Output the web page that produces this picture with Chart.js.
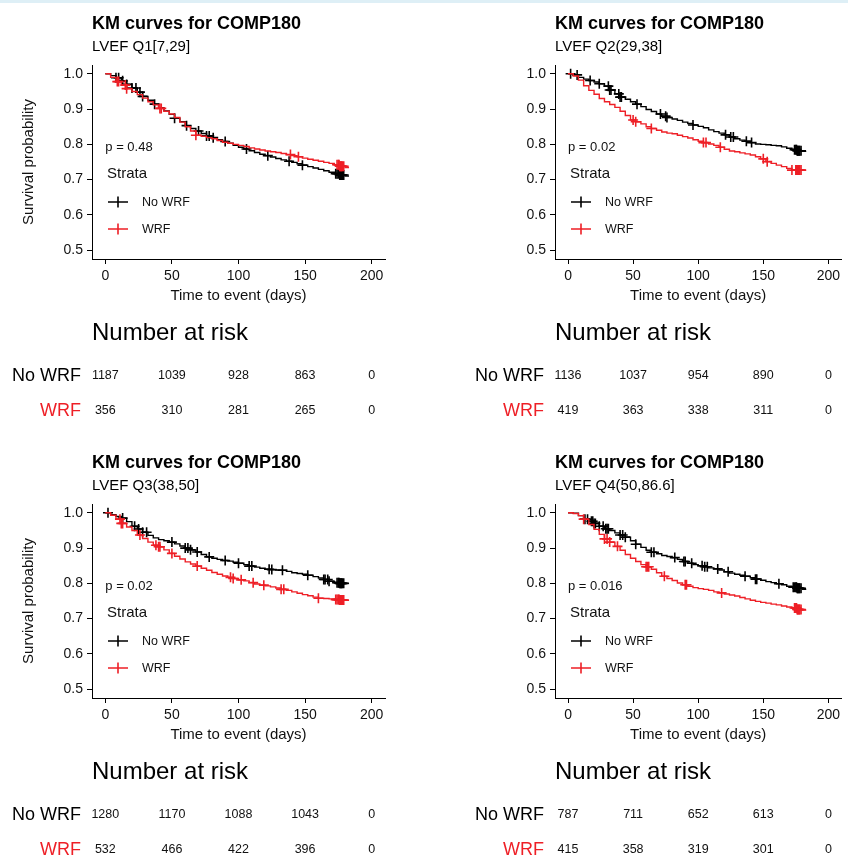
<!DOCTYPE html>
<html>
<head>
<meta charset="utf-8">
<script src="https://cdn.jsdelivr.net/npm/chart.js@4.4.1/dist/chart.umd.min.js"></script>
<style>
  body { margin: 0; background: #fff; width: 848px; height: 857px; position: relative; overflow: hidden; }
  #band { position: absolute; left: 0; top: 0; width: 848px; height: 3px; background: #deeff6; }
  .panel { position: absolute; }
  canvas { display: block; }
</style>
</head>
<body>
<div id="band"></div>
<div class="panel" style="left:0;top:0"><canvas id="q1" width="424" height="439"></canvas></div>
<div class="panel" style="left:463px;top:0"><canvas id="q2" width="385" height="439"></canvas></div>
<div class="panel" style="left:0;top:439px"><canvas id="q3" width="424" height="418"></canvas></div>
<div class="panel" style="left:463px;top:439px"><canvas id="q4" width="385" height="418"></canvas></div>
<script>
// days at which the KM estimates below were read off
var dayGrid = [0, 4, 8, 12, 16, 20, 24, 28, 32, 36, 40, 44, 48, 52, 56, 60, 64, 68, 72, 76, 80, 84, 88, 92,
    96, 100, 104, 108, 112, 116, 120, 124, 128, 132, 136, 140, 144, 148, 152, 156, 160, 164, 168, 172, 176, 180, 183]

var xTicks = [0, 50, 100, 150, 200]
var yTicks = [0.5, 0.6, 0.7, 0.8, 0.9, 1.0]
var strata = ['No WRF', 'WRF']
var subtitles = ['LVEF Q1[7,29]', 'LVEF Q2(29,38]', 'LVEF Q3(38,50]', 'LVEF Q4(50,86.6]']
var pValues = ['p = 0.48', 'p = 0.02', 'p = 0.02', 'p = 0.016']

// survival probability, Q1
var q1NoWrf = [1.000, 0.995, 0.989, 0.980, 0.970, 0.960, 0.948, 0.936, 0.925, 0.914, 0.904, 0.895, 0.885, 0.874, 0.864, 0.853,
    0.845, 0.838, 0.831, 0.824, 0.819, 0.813, 0.808, 0.803, 0.797, 0.792, 0.787, 0.782, 0.777, 0.772, 0.768, 0.764,
    0.760, 0.756, 0.752, 0.749, 0.745, 0.741, 0.737, 0.733, 0.729, 0.725, 0.721, 0.717, 0.713, 0.710, 0.710]
var q1Wrf = [1.000, 0.990, 0.978, 0.968, 0.958, 0.950, 0.941, 0.931, 0.921, 0.912, 0.902, 0.894, 0.886, 0.876, 0.863, 0.850,
    0.838, 0.826, 0.823, 0.819, 0.816, 0.811, 0.806, 0.803, 0.800, 0.797, 0.794, 0.790, 0.787, 0.784, 0.781, 0.779,
    0.777, 0.774, 0.771, 0.768, 0.765, 0.761, 0.758, 0.755, 0.752, 0.749, 0.746, 0.742, 0.738, 0.734, 0.734]
// Q2
var q2NoWrf = [1.000, 0.997, 0.990, 0.985, 0.981, 0.977, 0.972, 0.965, 0.954, 0.943, 0.934, 0.928, 0.921, 0.914, 0.907, 0.899,
    0.893, 0.886, 0.880, 0.876, 0.872, 0.868, 0.863, 0.859, 0.855, 0.851, 0.847, 0.841, 0.836, 0.832, 0.827, 0.821,
    0.816, 0.812, 0.809, 0.805, 0.801, 0.800, 0.799, 0.797, 0.796, 0.793, 0.789, 0.785, 0.782, 0.780, 0.780]
var q2Wrf = [1.000, 0.994, 0.982, 0.966, 0.953, 0.942, 0.930, 0.921, 0.913, 0.905, 0.894, 0.882, 0.869, 0.864, 0.858, 0.850,
    0.845, 0.840, 0.835, 0.832, 0.830, 0.826, 0.822, 0.818, 0.813, 0.809, 0.805, 0.801, 0.797, 0.792, 0.786, 0.781,
    0.779, 0.776, 0.773, 0.770, 0.765, 0.759, 0.751, 0.746, 0.741, 0.737, 0.732, 0.727, 0.727, 0.727, 0.727]
// Q3
var q3NoWrf = [1.000, 0.995, 0.990, 0.985, 0.975, 0.962, 0.954, 0.945, 0.936, 0.929, 0.924, 0.921, 0.917, 0.912, 0.906, 0.900,
    0.895, 0.889, 0.882, 0.875, 0.871, 0.868, 0.865, 0.863, 0.860, 0.857, 0.853, 0.849, 0.846, 0.843, 0.840, 0.839,
    0.838, 0.837, 0.834, 0.830, 0.828, 0.826, 0.823, 0.819, 0.815, 0.811, 0.806, 0.802, 0.800, 0.800, 0.800]
var q3Wrf = [1.000, 0.993, 0.982, 0.970, 0.960, 0.950, 0.937, 0.927, 0.917, 0.908, 0.904, 0.895, 0.885, 0.877, 0.869, 0.861,
    0.855, 0.849, 0.843, 0.837, 0.831, 0.826, 0.821, 0.817, 0.814, 0.810, 0.807, 0.802, 0.798, 0.795, 0.793, 0.790,
    0.787, 0.783, 0.780, 0.776, 0.772, 0.768, 0.765, 0.761, 0.758, 0.757, 0.756, 0.754, 0.753, 0.752, 0.752]
// Q4
var q4NoWrf = [1.000, 0.999, 0.992, 0.982, 0.976, 0.970, 0.962, 0.955, 0.950, 0.943, 0.937, 0.931, 0.921, 0.911, 0.902, 0.894,
    0.888, 0.884, 0.879, 0.876, 0.873, 0.868, 0.862, 0.857, 0.853, 0.850, 0.847, 0.844, 0.841, 0.838, 0.833, 0.829,
    0.826, 0.823, 0.820, 0.816, 0.812, 0.809, 0.805, 0.802, 0.799, 0.796, 0.792, 0.789, 0.786, 0.783, 0.783]
var q4Wrf = [1.000, 0.998, 0.992, 0.982, 0.967, 0.953, 0.939, 0.926, 0.917, 0.905, 0.894, 0.882, 0.871, 0.862, 0.853, 0.847,
    0.840, 0.830, 0.820, 0.814, 0.808, 0.801, 0.796, 0.792, 0.788, 0.785, 0.783, 0.780, 0.776, 0.773, 0.770, 0.767,
    0.764, 0.760, 0.756, 0.752, 0.749, 0.746, 0.744, 0.741, 0.739, 0.736, 0.733, 0.730, 0.726, 0.724, 0.724]

// censoring times (days)
var q1NoWrfCens = [8, 10, 13, 16, 20, 23, 26, 28, 37, 52, 61, 70, 76, 78, 81, 90, 106, 122, 138, 148, 173, 174, 175, 176, 176.5, 177, 177.5, 178, 179]
var q1WrfCens = [9, 10, 15, 16, 41, 42, 68, 139, 145, 174, 175, 175.5, 176, 176.5, 177, 177.5, 178, 179]
var q2NoWrfCens = [2, 7, 17, 24, 31, 32, 33, 39, 40, 41, 53, 71, 75, 76, 96, 121, 125, 127, 137, 141, 174, 175, 175.5, 176, 176.5, 177, 177.5, 178, 179]
var q2WrfCens = [50, 52, 64, 104, 106, 117, 150, 153, 172, 175, 175.5, 176, 176.5, 177, 177.5, 178, 179]
var q3NoWrfCens = [2, 13, 22, 25, 28, 31, 50, 60, 62, 64, 69, 78, 90, 100, 108, 110, 123, 125, 133, 152, 164, 165, 167, 168, 174, 175, 175.5, 176, 176.5, 177, 177.5, 178, 179]
var q3WrfCens = [11, 12, 13, 26, 38, 40, 41, 50, 69, 94, 96, 102, 111, 119, 132, 134, 160, 173, 174, 175, 175.5, 176, 176.5, 177, 177.5, 178, 179]
var q4NoWrfCens = [13, 15, 18, 19, 20, 21, 24, 27, 29, 30, 31, 40, 42, 44, 52, 64, 66, 82, 89, 90, 95, 103, 105, 107, 115, 123, 136, 144, 145, 162, 173, 174, 175, 175.5, 176, 176.5, 177, 177.5, 178, 179]
var q4WrfCens = [12, 28, 30, 32, 38, 60, 61, 62, 74, 90, 91, 118, 174, 175, 175.5, 176, 176.5, 177, 177.5, 178, 179]

// number at risk at 0, 50, 100, 150, 200 days
var q1RiskNo = [1187, 1039, 928, 863, 0]
var q1RiskWrf = [356, 310, 281, 265, 0]
var q2RiskNo = [1136, 1037, 954, 890, 0]
var q2RiskWrf = [419, 363, 338, 311, 0]
var q3RiskNo = [1280, 1170, 1088, 1043, 0]
var q3RiskWrf = [532, 466, 422, 396, 0]
var q4RiskNo = [787, 711, 652, 613, 0]
var q4RiskWrf = [415, 358, 319, 301, 0]

var colors = ['#000000', '#ee1f26']
var FONT = '"Liberation Sans", Arial, sans-serif'

// value of the step curve at day t
function survAt(surv, t) {
    var v = surv[0]
    for (var i = 0; i < dayGrid.length; i++) {
        if (dayGrid[i] <= t) v = surv[i]
    }
    return v
}

function curvePoints(surv) {
    return dayGrid.map((d, i) => ({ x: d, y: surv[i] }))
}

function censorPoints(surv, times) {
    return times.map(t => ({ x: t, y: survAt(surv, t) }))
}

var kmText = {
    id: 'kmText',
    afterDraw: function(chart, args, o) {
        var ctx = chart.ctx
        var ca = chart.chartArea
        var xs = chart.scales.x
        var ys = chart.scales.y
        ctx.save()
        ctx.fillStyle = '#000'
        ctx.textAlign = 'left'
        ctx.textBaseline = 'alphabetic'
        ctx.font = 'bold 18px ' + FONT
        ctx.fillText('KM curves for COMP180', ca.left, 29)
        ctx.font = '15px ' + FONT
        ctx.fillText(o.subtitle, ca.left, 51)

        // axis titles
        ctx.textAlign = 'center'
        ctx.textBaseline = 'middle'
        ctx.fillStyle = '#111'
        ctx.fillText('Time to event (days)', (ca.left + ca.right) / 2, 296)
        if (o.yTitle) {
            ctx.save()
            ctx.translate(29, (ca.top + ca.bottom) / 2)
            ctx.rotate(-Math.PI / 2)
            ctx.fillText('Survival probability', 0, 0)
            ctx.restore()
        }

        // p value and legend
        ctx.textAlign = 'left'
        ctx.font = '13px ' + FONT
        ctx.fillText(o.pval, xs.getPixelForValue(0), ys.getPixelForValue(0.792))
        ctx.font = '15px ' + FONT
        ctx.fillText('Strata', ca.left + 15, 174)
        ctx.font = '12.5px ' + FONT
        strata.forEach(function(name, i) {
            var yy = 202 + i * 27
            var cx = ca.left + 26
            ctx.strokeStyle = colors[i]
            ctx.lineWidth = 1.6
            ctx.beginPath()
            ctx.moveTo(ca.left + 16, yy)
            ctx.lineTo(ca.left + 36, yy)
            ctx.moveTo(cx, yy - 5.5)
            ctx.lineTo(cx, yy + 5.5)
            ctx.stroke()
            ctx.fillStyle = '#111'
            ctx.fillText(name, ca.left + 50, yy + 1)
        })

        // number at risk table
        ctx.fillStyle = '#000'
        ctx.font = '24px ' + FONT
        ctx.fillText('Number at risk', ca.left, 333)
        var rows = [o.riskNo, o.riskWrf]
        rows.forEach(function(vals, i) {
            var yy = 376 + i * 35
            ctx.textAlign = 'right'
            ctx.font = '18px ' + FONT
            ctx.fillStyle = colors[i]
            ctx.fillText(strata[i], 81, yy)
            ctx.textAlign = 'center'
            ctx.font = '12.5px ' + FONT
            ctx.fillStyle = '#111'
            vals.forEach(function(v, j) {
                ctx.fillText(String(v), xs.getPixelForValue(xTicks[j]), yy)
            })
        })
        ctx.restore()
    }
}

function makeChart(id, p) {
    var ctx = document.getElementById(id).getContext('2d')
    var lineDs = function(surv, c, ord) {
        return { data: curvePoints(surv), borderColor: c, borderWidth: 1.4, stepped: true, pointRadius: 0, fill: false, order: ord }
    }
    var censDs = function(surv, times, c, ord) {
        return { data: censorPoints(surv, times), showLine: false, pointStyle: 'cross', pointRadius: 5,
            pointBorderWidth: 1.6, pointBorderColor: c, borderColor: c, order: ord }
    }
    return new Chart(ctx, {
        type: 'line',
        data: {
            datasets: [
                censDs(p.wrf, p.wrfCens, colors[1], 0),
                lineDs(p.wrf, colors[1], 1),
                censDs(p.no, p.noCens, colors[0], 2),
                lineDs(p.no, colors[0], 3)
            ]
        },
        options: {
            responsive: false,
            animation: false,
            events: [],
            layout: { padding: { top: 65, left: 0, right: p.right, bottom: p.bottom } },
            plugins: {
                legend: { display: false },
                tooltip: { enabled: false },
                kmText: { subtitle: p.subtitle, pval: p.pval, yTitle: p.yTitle, riskNo: p.riskNo, riskWrf: p.riskWrf }
            },
            scales: {
                x: {
                    type: 'linear', min: -10, max: 210,
                    afterBuildTicks: function(s) { s.ticks = xTicks.map(v => ({ value: v })) },
                    afterFit: function(s) { s.height = 30 },
                    grid: { display: true, drawOnChartArea: false, drawTicks: true, tickLength: 5, color: '#000' },
                    border: { display: true, color: '#000', width: 1 },
                    ticks: { font: { family: FONT, size: 14 }, color: '#111', padding: 4, maxRotation: 0 }
                },
                y: {
                    type: 'linear', min: 0.475, max: 1.025,
                    afterBuildTicks: function(s) { s.ticks = yTicks.map(v => ({ value: v })) },
                    afterFit: function(s) { s.width = 92 },
                    grid: { display: true, drawOnChartArea: false, drawTicks: true, tickLength: 5, color: '#000' },
                    border: { display: true, color: '#000', width: 1 },
                    ticks: { font: { family: FONT, size: 14 }, color: '#111', padding: 4, callback: v => v.toFixed(1) }
                }
            }
        },
        plugins: [kmText]
    })
}

makeChart('q1', { no: q1NoWrf, wrf: q1Wrf, noCens: q1NoWrfCens, wrfCens: q1WrfCens, subtitle: subtitles[0], pval: pValues[0],
    yTitle: true, riskNo: q1RiskNo, riskWrf: q1RiskWrf, right: 39, bottom: 150 })
makeChart('q2', { no: q2NoWrf, wrf: q2Wrf, noCens: q2NoWrfCens, wrfCens: q2WrfCens, subtitle: subtitles[1], pval: pValues[1],
    yTitle: false, riskNo: q2RiskNo, riskWrf: q2RiskWrf, right: 0, bottom: 150 })
makeChart('q3', { no: q3NoWrf, wrf: q3Wrf, noCens: q3NoWrfCens, wrfCens: q3WrfCens, subtitle: subtitles[2], pval: pValues[2],
    yTitle: true, riskNo: q3RiskNo, riskWrf: q3RiskWrf, right: 39, bottom: 129 })
makeChart('q4', { no: q4NoWrf, wrf: q4Wrf, noCens: q4NoWrfCens, wrfCens: q4WrfCens, subtitle: subtitles[3], pval: pValues[3],
    yTitle: false, riskNo: q4RiskNo, riskWrf: q4RiskWrf, right: 0, bottom: 129 })
</script>
</body>
</html>
